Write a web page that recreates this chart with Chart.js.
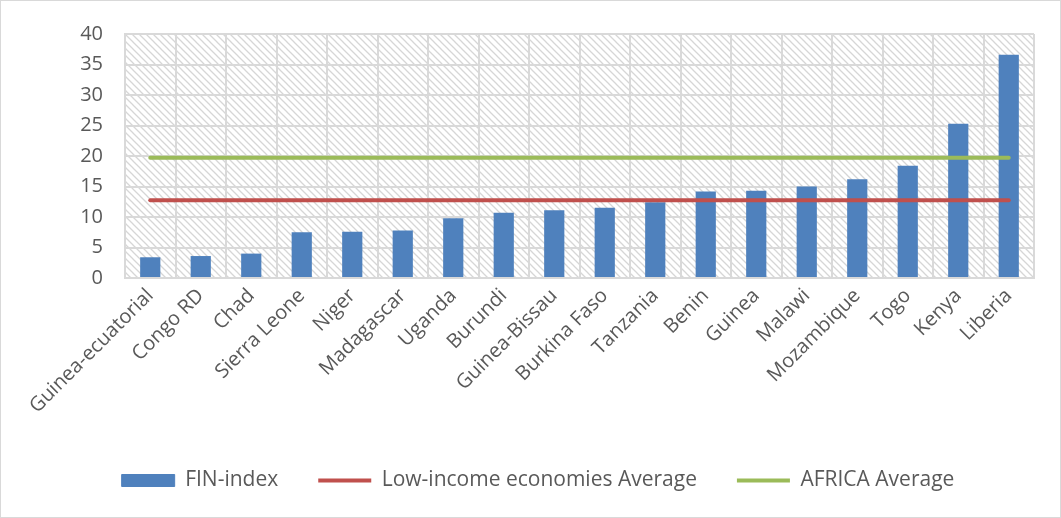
<!DOCTYPE html>
<html>
<head>
<meta charset="utf-8">
<script src="https://cdn.jsdelivr.net/npm/chart.js@4.4.1/dist/chart.umd.min.js"></script>
<style>
  body { margin: 0; background: #fff; }
  #wrap { width: 1061px; height: 518px; position: relative; }
</style>
</head>
<body>
<div id="wrap"><canvas id="finChart"></canvas></div>
<script>
// Countries along the x axis
const countries = [
    "Guinea-ecuatorial", "Congo RD", "Chad", "Sierra Leone", "Niger", "Madagascar",
    "Uganda", "Burundi", "Guinea-Bissau", "Burkina Faso", "Tanzania", "Benin",
    "Guinea", "Malawi", "Mozambique", "Togo", "Kenya", "Liberia"
];

// FIN-index per country
const finIndex = [3.4, 3.6, 4.0, 7.5, 7.6, 7.8, 9.8, 10.7, 11.1, 11.5, 12.4, 14.2, 14.3, 15.0, 16.2, 18.4, 25.3, 36.6];

// Reference averages
const lowIncomeAvg = 12.75;
const africaAvg = 19.7;

const yTicks = [0, 5, 10, 15, 20, 25, 30, 35, 40];

const GRID = "#d9d9d9";
const TEXT = "#595959";

// Diagonal hatch used as plot background
function makeHatch() {
    const tile = document.createElement("canvas");
    tile.width = 7;
    tile.height = 7;
    const c = tile.getContext("2d");
    c.strokeStyle = "#d6d6d6";
    c.lineWidth = 1.3;
    c.beginPath();
    c.moveTo(-1, -1); c.lineTo(8, 8);
    c.moveTo(-1, 6); c.lineTo(1, 8);
    c.moveTo(6, -1); c.lineTo(8, 1);
    c.stroke();
    return c.createPattern(tile, "repeat");
}

const hatchPlugin = {
    id: "hatch",
    afterLayout(chart) {
        // legend centring counts a trailing padding, nudge it back right
        if (chart.legend) {
            chart.legend.left += 21;
            chart.legend.right += 21;
        }
    },
    beforeDraw(chart) {
        const { ctx, chartArea: a } = chart;
        ctx.save();
        ctx.fillStyle = makeHatch();
        ctx.fillRect(a.left, a.top, a.right - a.left, a.bottom - a.top);
        ctx.restore();
    },
    afterDraw(chart) {
        const ctx = chart.ctx;
        ctx.save();
        ctx.strokeStyle = GRID;
        ctx.lineWidth = 1;
        ctx.strokeRect(0.5, 0.5, chart.width - 1, chart.height - 1);
        ctx.restore();
    }
};

Chart.defaults.font.family = "'Open Sans', sans-serif";
Chart.defaults.color = TEXT;

const ctx = document.getElementById("finChart").getContext("2d");
new Chart(ctx, {
    type: "bar",
    data: {
        labels: countries,
        datasets: [
            {
                label: "FIN-index",
                data: finIndex,
                backgroundColor: "#4f81bd",
                borderWidth: 0,
                categoryPercentage: 0.8,
                barPercentage: 0.5,
                order: 2
            },
            {
                type: "line",
                label: "Low-income economies Average",
                data: countries.map(() => lowIncomeAvg),
                borderColor: "#c0504d",
                backgroundColor: "#c0504d",
                borderWidth: 4,
                borderCapStyle: "round",
                pointRadius: 0,
                order: 1
            },
            {
                type: "line",
                label: "AFRICA Average",
                data: countries.map(() => africaAvg),
                borderColor: "#9bbb59",
                backgroundColor: "#9bbb59",
                borderWidth: 4,
                borderCapStyle: "round",
                pointRadius: 0,
                order: 0
            }
        ]
    },
    options: {
        responsive: true,
        maintainAspectRatio: false,
        animation: false,
        layout: { padding: { top: 27, right: 27, bottom: 17, left: 0 } },
        plugins: {
            tooltip: { enabled: false },
            legend: {
                position: "bottom",
                labels: {
                    usePointStyle: true,
                    pointStyleWidth: 53,
                    boxHeight: 12,
                    padding: 40,
                    color: TEXT,
                    font: { size: 21 },
                    generateLabels(chart) {
                        const items = Chart.defaults.plugins.legend.labels.generateLabels(chart);
                        items.sort((a, b) => a.datasetIndex - b.datasetIndex);
                        items.forEach((it, i) => {
                            it.rotation = 0;
                            if (i === 0) {
                                it.pointStyle = "rect";
                                it.fillStyle = "#4f81bd";
                                it.strokeStyle = "#4f81bd";
                                it.lineWidth = 1;
                            } else {
                                it.pointStyle = "line";
                            }
                        });
                        return items;
                    }
                }
            }
        },
        scales: {
            x: {
                grid: { color: GRID, lineWidth: 2, drawTicks: false, offset: true },
                border: { color: GRID, width: 2 },
                ticks: {
                    color: TEXT,
                    font: { size: 20 },
                    minRotation: 45,
                    maxRotation: 45,
                    padding: 6,
                    autoSkip: false
                },
                afterFit(scale) { scale.height = 152; }
            },
            y: {
                min: 0,
                max: 40,
                grid: { color: GRID, lineWidth: 2, drawTicks: false },
                border: { color: GRID, width: 2 },
                afterBuildTicks(scale) { scale.ticks = yTicks.map(v => ({ value: v })); },
                ticks: { color: TEXT, font: { size: 20 }, padding: 22 },
                afterFit(scale) { scale.width = 125; }
            }
        }
    },
    plugins: [hatchPlugin]
});
</script>
</body>
</html>
